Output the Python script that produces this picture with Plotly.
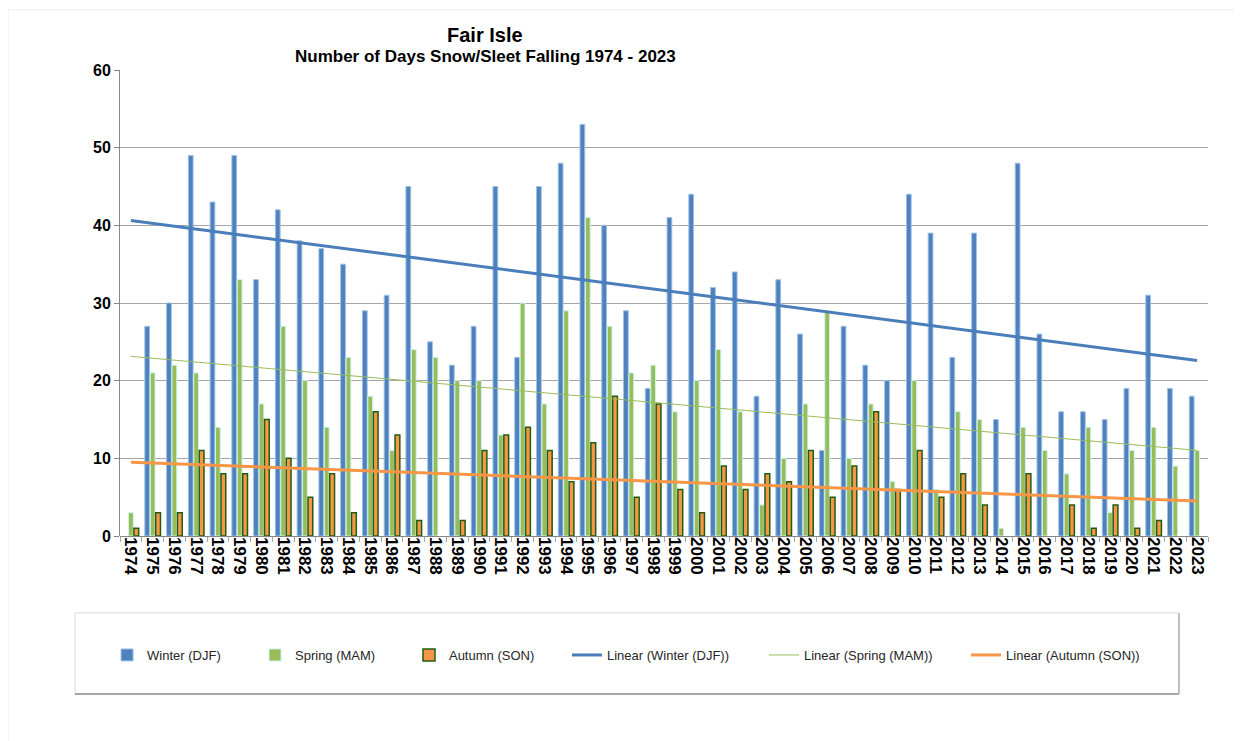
import numpy as np
import plotly.graph_objects as go

years = [str(y) for y in range(1974, 2024)]
winter = [None, 27, 30, 49, 43, 49, 33, 42, 38, 37, 35, 29, 31, 45, 25, 22, 27, 45, 23, 45,
          48, 53, 40, 29, 19, 41, 44, 32, 34, 18, 33, 26, 11, 27, 22, 20, 44, 39, 23, 39,
          15, 48, 26, 16, 16, 15, 19, 31, 19, 18]
spring = [3, 21, 22, 21, 14, 33, 17, 27, 20, 14, 23, 18, 11, 24, 23, 20, 20, 13, 30, 17,
          29, 41, 27, 21, 22, 16, 20, 24, 16, 4, 10, 17, 29, 10, 17, 7, 20, 6, 16, 15,
          1, 14, 11, 8, 14, 3, 11, 14, 9, 11]
autumn = [1, 3, 3, 11, 8, 8, 15, 10, 5, 8, 3, 16, 13, 2, 0, 2, 11, 13, 14, 11,
          7, 12, 18, 5, 17, 6, 3, 9, 6, 8, 7, 11, 5, 9, 16, 6, 11, 5, 8, 4,
          0, 8, 0, 4, 1, 4, 1, 2, 0, 0]

idx = np.arange(len(years))


def trend(vals):
    v = np.array([np.nan if a is None else a for a in vals], dtype=float)
    ok = ~np.isnan(v)
    k, b = np.polyfit(idx[ok], v[ok], 1)
    return list(k * idx + b)


FONT = "Liberation Sans, Arial, sans-serif"

fig = go.Figure()
fig.add_trace(go.Bar(x=years, y=winter, name="Winter (DJF)", legend="legend",
                     marker=dict(color="#4F81BD", line=dict(color="#9DC3E6", width=1))))
fig.add_trace(go.Bar(x=years, y=spring, name="Spring (MAM)", legend="legend2",
                     marker=dict(color="#9BBB59", line=dict(color="#C8F5F0", width=1))))
fig.add_trace(go.Bar(x=years, y=autumn, name="Autumn (SON)", legend="legend3",
                     marker=dict(color="#F79646",
                                 line=dict(color="#1E5E12",
                                           width=[1.5 if a else 0 for a in autumn]))))
fig.add_trace(go.Scatter(x=years, y=trend(winter), mode="lines", name="Linear (Winter (DJF))",
                         legend="legend4", line=dict(color="#4A7EBB", width=3)))
fig.add_trace(go.Scatter(x=years, y=trend(spring), mode="lines", name="Linear (Spring (MAM))",
                         legend="legend5", line=dict(color="#9BBB59", width=1)))
fig.add_trace(go.Scatter(x=years, y=trend(autumn), mode="lines", name="Linear (Autumn (SON))",
                         legend="legend6", line=dict(color="#F79646", width=3)))

leg_x = [-0.0119, 0.1241, 0.2656, 0.4108, 0.5919, 0.7776]
leg_common = dict(y=-0.2554, yanchor="middle", xanchor="left", bgcolor="rgba(0,0,0,0)",
                  borderwidth=0, font=dict(family=FONT, size=13, color="#262626"),
                  orientation="h")
layout_legends = {}
for i, lx in enumerate(leg_x):
    key = "legend" if i == 0 else f"legend{i + 1}"
    layout_legends[key] = dict(x=lx, **leg_common)

fig.update_layout(
    width=1242, height=741,
    margin=dict(l=112, r=42, t=62, b=213),
    paper_bgcolor="white", plot_bgcolor="white",
    barmode="group", bargap=0.25, bargroupgap=0.12,
    showlegend=True,
    font=dict(family=FONT, color="#000000"),
    xaxis=dict(type="category", tickangle=90,
               tickfont=dict(family=FONT, size=17, color="#000000", weight="bold"),
               ticks="outside", tickson="boundaries", ticklen=5, tickcolor="#A6A6A6",
               showline=False, showgrid=False, zeroline=False),
    yaxis=dict(range=[0, 60], dtick=10,
               tickfont=dict(family=FONT, size=16, color="#000000", weight="bold"),
               showgrid=True, gridcolor="#A6A6A6", gridwidth=1,
               showline=True, linecolor="#868686", linewidth=1,
               ticks="outside", ticklen=5, tickcolor="#868686",
               zeroline=True, zerolinecolor="#868686", zerolinewidth=1),
    **layout_legends,
)

# Title text
fig.add_annotation(text="<b>Fair Isle</b>", xref="paper", yref="paper", x=0.3355, y=1.075,
                   showarrow=False, xanchor="center", yanchor="middle",
                   font=dict(family=FONT, size=20, color="#000000"))
fig.add_annotation(text="<b>Number of Days Snow/Sleet Falling 1974 - 2023</b>", xref="paper",
                   yref="paper", x=0.3355, y=1.030, showarrow=False, xanchor="center",
                   yanchor="middle", font=dict(family=FONT, size=17, color="#000000"))

# Legend box with shadow
fig.add_shape(type="rect", xref="paper", yref="paper", x0=-0.0414, x1=0.9733, y0=-0.339, y1=-0.165,
              line=dict(color="#D9D9D9", width=1), fillcolor="rgba(0,0,0,0)", layer="below")
fig.add_shape(type="line", xref="paper", yref="paper", x0=-0.0414, x1=0.9733, y0=-0.339, y1=-0.339,
              line=dict(color="#A6A6A6", width=2))
fig.add_shape(type="line", xref="paper", yref="paper", x0=0.9733, x1=0.9733, y0=-0.339, y1=-0.165,
              line=dict(color="#BFBFBF", width=2))

# Faint outer frame (top and left edges)
fig.add_shape(type="line", xref="paper", yref="paper", x0=-0.1029, x1=1.2, y0=1.1288, y1=1.1288,
              line=dict(color="#EBEBEB", width=1))
fig.add_shape(type="line", xref="paper", yref="paper", x0=-0.1029, x1=-0.1029, y0=1.1288, y1=-0.6,
              line=dict(color="#EBEBEB", width=1))

fig.write_html("out.html")
